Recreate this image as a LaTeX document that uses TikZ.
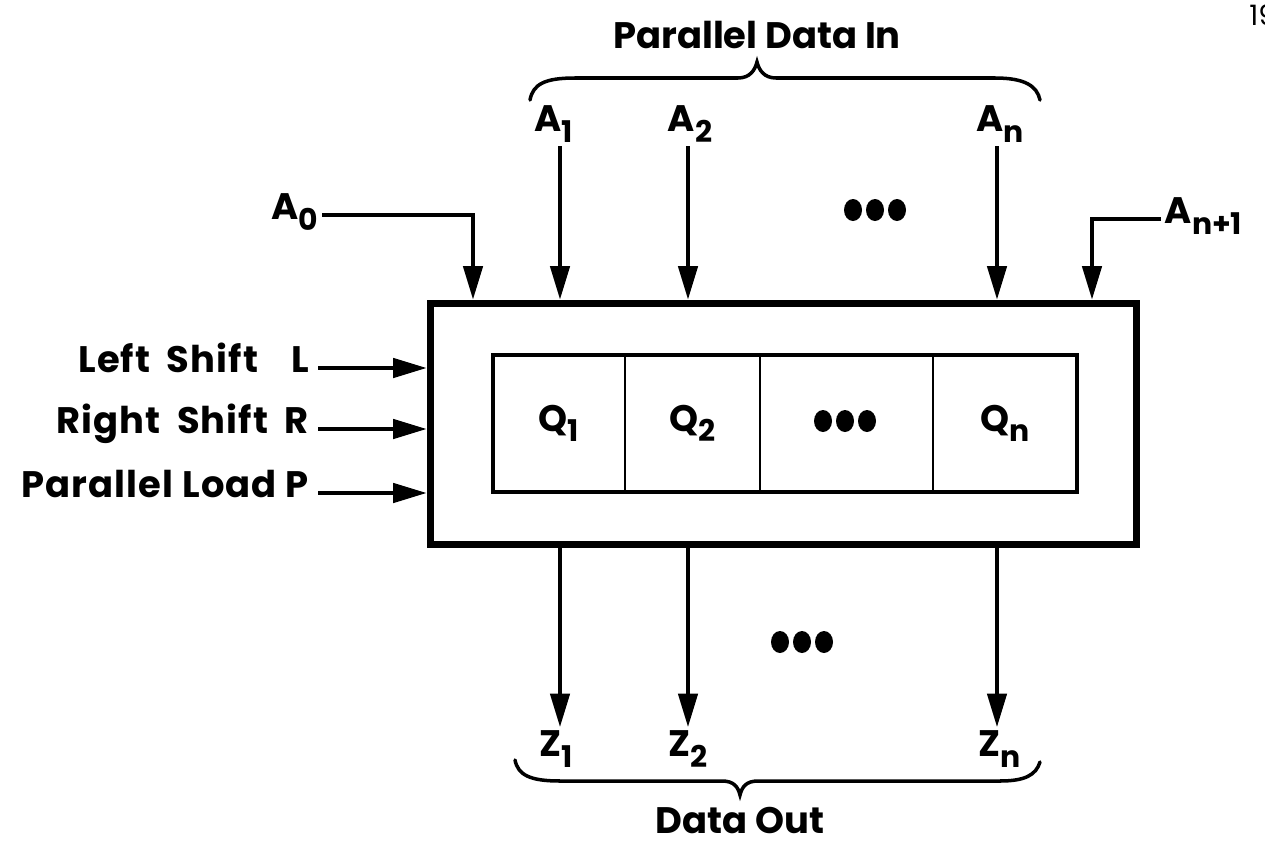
\documentclass[tikz,border=0pt]{standalone}
\usepackage{fontspec}
\setmainfont{Poppins}
\newfontfamily\widefont{Poppins}[LetterSpace=3]
\usetikzlibrary{arrows.meta,positioning}
\newcommand{\lett}{\fontsize{21}{24}\selectfont\bfseries}
\newcommand{\sbs}[1]{\raisebox{-0.5ex}{\fontsize{17}{19}\selectfont #1}}
\newcommand{\wsp}{\hspace{0.45em}}

\begin{document}
\begin{tikzpicture}[x=0.02cm, y=-0.02cm,
  lbl/.style={font=\lett, inner sep=2pt},
  ctl/.style={font=\widefont\lett, inner sep=2pt, inner xsep=5pt, anchor=mid east},
  sig/.style={line width=2pt, -{Triangle[length=19pt,width=11pt]}},
  cell/.style={draw, line width=1.4pt, outer sep=0pt, minimum height=2.74cm, inner sep=0pt, font=\lett},
  brc/.style={line width=2pt, line cap=round}
]
\useasboundingbox (0,0) rectangle (1265,842);
% register and its cells
\node[draw, line width=4pt, minimum width=14.14cm, minimum height=4.84cm] (reg) at (783.5,424) {};
\node[cell, minimum width=2.64cm] (q1) at (559,423.5) {Q\sbs{1}};
\node[cell, minimum width=2.70cm, right=0pt of q1] (q2) {Q\sbs{2}};
\node[cell, minimum width=3.46cm, right=0pt of q2] (qd) {};
\node[cell, minimum width=2.88cm, right=0pt of qd] (qn) {Q\sbs{n}};
\draw[line width=2.4pt] (q1.south west) rectangle (qn.north east);
\foreach \x in {823,845,867} \fill (\x,421) ellipse (9 and 11);
% columns
\coordinate (c1) at (560,0);
\coordinate (c2) at (688,0);
\coordinate (cn) at (997,0);
% control inputs
\node[ctl] (lsh) at (318,368) {Left\wsp Shift\wsp\wsp L};
\node[ctl] (rsh) at (318,429) {Right\wsp Shift\wsp R};
\node[ctl] (pld) at (318,493) {Parallel Load P};
\draw[sig] (lsh.mid east) -- (lsh.mid east -| reg.west);
\draw[sig] (rsh.mid east) -- (rsh.mid east -| reg.west);
\draw[sig] (pld.mid east) -- (pld.mid east -| reg.west);
% serial inputs
\node[lbl, anchor=mid east] (a0) at (322,215) {A\sbs{0}};
\coordinate (a0k) at (473,0);
\draw[sig] (a0.mid east) -| (a0k |- reg.north);
\node[lbl, anchor=mid west] (an1) at (1161,219) {A\sbs{n+1}};
\coordinate (an1k) at (1092,0);
\draw[sig] (an1.mid west) -| (an1k |- reg.north);
% parallel inputs
\node[lbl, anchor=south] (a1) at (554,146) {A\sbs{1}};
\node[lbl, anchor=south] (a2) at (690,146) {A\sbs{2}};
\node[lbl, anchor=south] (an) at (1000,146) {A\sbs{n}};
\draw[sig] (a1.south -| c1) -- (c1 |- reg.north);
\draw[sig] (a2.south -| c2) -- (c2 |- reg.north);
\draw[sig] (an.south -| cn) -- (cn |- reg.north);
\foreach \x in {853,875,897} \fill (\x,210) ellipse (9 and 11);
\draw[brc] (530,100) .. controls (533,84) and (545,78) .. (575,78) -- (738,78) .. controls (750,78) and (755,70) .. (757,62) .. controls (759,70) and (764,78) .. (776,78) -- (995,78) .. controls (1025,78) and (1037,86) .. (1040,100);
\node[lbl] (pdi) at (757,35) {Parallel Data In};
% outputs
\node[lbl, anchor=north] (z1) at (556,727) {Z\sbs{1}};
\node[lbl, anchor=north] (z2) at (688,727) {Z\sbs{2}};
\node[lbl, anchor=north] (zn) at (1000,727) {Z\sbs{n}};
\draw[sig] (c1 |- reg.south) -- (z1.north -| c1);
\draw[sig] (c2 |- reg.south) -- (z2.north -| c2);
\draw[sig] (cn |- reg.south) -- (zn.north -| cn);
\foreach \x in {780,802,824} \fill (\x,642) ellipse (9 and 11);
\draw[brc] (515,760) .. controls (518,775) and (530,781) .. (560,781) -- (722,781) .. controls (734,781) and (738,787) .. (740,795) .. controls (742,787) and (746,781) .. (758,781) -- (1000,781) .. controls (1025,781) and (1036,775) .. (1040,762);
\node[lbl] (dout) at (740,821) {Data Out};
% page number
\node[font=\fontsize{16}{18}\selectfont, anchor=north west, inner sep=0pt] (pg) at (1249,4) {19};
\end{tikzpicture}
\end{document}
